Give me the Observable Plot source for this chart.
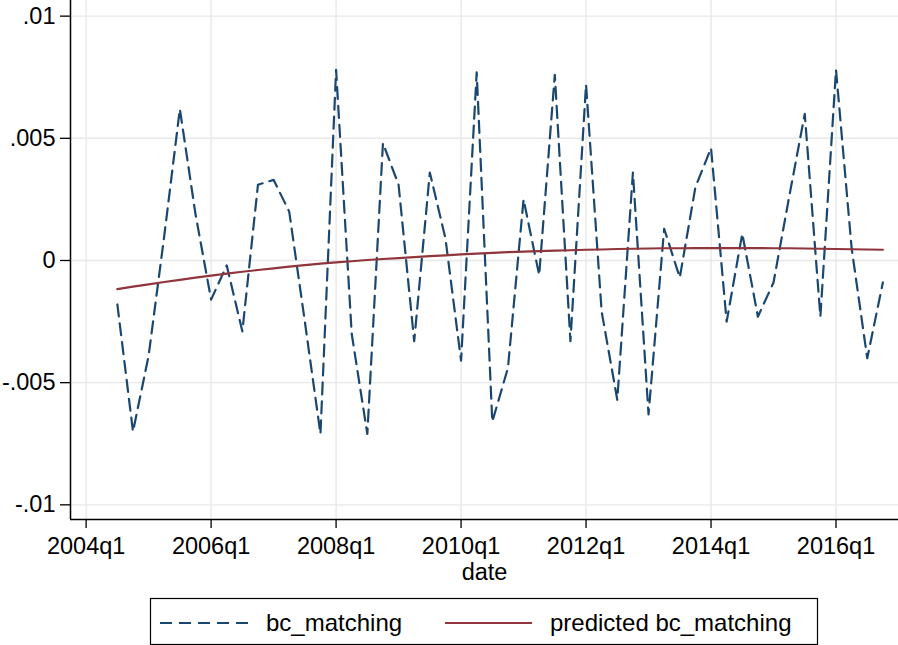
<!DOCTYPE html>
<html>
<head>
<meta charset="utf-8">
<script src="https://cdn.jsdelivr.net/npm/d3@7"></script>
<script src="https://cdn.jsdelivr.net/npm/@observablehq/plot@0.6"></script>
<style>
  html, body { margin: 0; padding: 0; background: #fff; }
  #wrap { position: relative; width: 898px; height: 645px; font-family: "Liberation Sans", Arial, Helvetica, sans-serif; }
  #legend { position: absolute; left: 0; top: 590px; }
</style>
</head>
<body>
<div id="wrap"><div id="chart"></div><div id="legend"></div></div>
<script>
// Quarters (index 0 = 2004q1)
const quarters = [
  "2004q3","2004q4","2005q1","2005q2","2005q3","2005q4","2006q1","2006q2","2006q3","2006q4",
  "2007q1","2007q2","2007q3","2007q4","2008q1","2008q2","2008q3","2008q4","2009q1","2009q2",
  "2009q3","2009q4","2010q1","2010q2","2010q3","2010q4","2011q1","2011q2","2011q3","2011q4",
  "2012q1","2012q2","2012q3","2012q4","2013q1","2013q2","2013q3","2013q4","2014q1","2014q2",
  "2014q3","2014q4","2015q1","2015q2","2015q3","2015q4","2016q1","2016q2","2016q3","2016q4"
];
const bcMatching = [
  -0.0018, -0.0070, -0.0039, 0.0010, 0.0062, 0.0019, -0.0016, -0.0002, -0.0029, 0.0031,
  0.0033, 0.0020, -0.0025, -0.0071, 0.0078, -0.0030, -0.0071, 0.0048, 0.0031, -0.0033,
  0.0036, 0.0009, -0.0041, 0.0077, -0.0066, -0.0044, 0.0025, -0.0006, 0.0076, -0.0033,
  0.0072, -0.0021, -0.0057, 0.0036, -0.0063, 0.0013, -0.0007, 0.0030, 0.0046, -0.0025,
  0.0011, -0.0023, -0.0009, 0.0026, 0.0060, -0.0023, 0.0078, 0.0005, -0.0040, -0.0009
];
const predicted = [
  -0.00117, -0.00107, -0.00098, -0.00088, -0.00079, -0.00070, -0.00062, -0.00054, -0.00046, -0.00039,
  -0.00032, -0.00025, -0.00019, -0.00013, -0.00008, -0.00003, 0.00002, 0.00006, 0.00010, 0.00014,
  0.00018, 0.00021, 0.00025, 0.00028, 0.00031, 0.00034, 0.00036, 0.00038, 0.00040, 0.00042,
  0.00044, 0.00045, 0.00047, 0.00048, 0.00049, 0.00050, 0.00050, 0.00051, 0.00051, 0.00051,
  0.00051, 0.00051, 0.00050, 0.00050, 0.00049, 0.00048, 0.00047, 0.00046, 0.00045, 0.00044
];
const xTickLabels = ["2004q1","2006q1","2008q1","2010q1","2012q1","2014q1","2016q1"];
const yTicks = [-0.01, -0.005, 0, 0.005, 0.01];
const yTickLabels = ["-.01", "-.005", "0", ".005", ".01"];
const seriesNames = ["bc_matching", "predicted bc_matching"];

const qIndex = s => (+s.slice(0, 4) - 2004) * 4 + (+s.slice(5) - 1);
const xTickVals = xTickLabels.map(qIndex);
const rows = quarters.map((d, i) => ({q: qIndex(d), bc: bcMatching[i], pred: predicted[i]}));

const blue = "#1a476f", red = "#90353b";
const FS = 23.5;
const LFS = 24;
const xDomain = [-1, 52];
const yDomain = [-0.0106, 0.01064];

const chart = Plot.plot({
  width: 898,
  height: 590,
  marginLeft: 70,
  marginRight: 0,
  marginTop: 0,
  marginBottom: 71,
  style: {fontFamily: '"Liberation Sans", Arial, Helvetica, sans-serif', fontSize: FS + "px", color: "#000", background: "#fff"},
  x: {domain: xDomain},
  y: {domain: yDomain},
  marks: [
    Plot.gridX(xTickVals, {stroke: "#e8e8e8", strokeOpacity: 1, strokeWidth: 1.4}),
    Plot.gridY(yTicks, {stroke: "#e8e8e8", strokeOpacity: 1, strokeWidth: 1.4}),
    Plot.axisY(yTicks, {tickSize: 10, tickPadding: 5, tickFormat: (d, i) => yTickLabels[i], fontSize: FS, label: null, strokeWidth: 1.3}),
    Plot.axisX(xTickVals, {tickSize: 9, tickPadding: 9, tickFormat: (d, i) => xTickLabels[i], fontSize: FS, label: null, strokeWidth: 1.3}),
    Plot.ruleX([xDomain[0]], {stroke: "#000", strokeWidth: 1.5}),
    Plot.ruleY([yDomain[0]], {stroke: "#000", strokeWidth: 1.5}),
    Plot.line(rows, {x: "q", y: "bc", stroke: blue, strokeWidth: 2.2, strokeDasharray: "12,7"}),
    Plot.line(rows, {x: "q", y: "pred", stroke: red, strokeWidth: 2.2}),
    Plot.text(["date"], {frameAnchor: "bottom", dy: 53, fontSize: FS, fill: "#000", textAnchor: "middle", lineAnchor: "middle"})
  ]
});
document.getElementById("chart").appendChild(chart);

// Legend below the plot
const lg = d3.select("#legend").append("svg").attr("width", 898).attr("height", 55)
  .style("font-family", '"Liberation Sans", Arial, Helvetica, sans-serif');
lg.append("rect").attr("x", 150.5).attr("y", 8.5).attr("width", 667).attr("height", 46)
  .attr("fill", "#fff").attr("stroke", "#000").attr("stroke-width", 1.2);
const items = [
  {name: seriesNames[0], color: blue, dash: "12,7", x1: 160, x2: 250, tx: 266},
  {name: seriesNames[1], color: red, dash: null, x1: 445, x2: 532, tx: 550}
];
items.forEach(it => {
  lg.append("line").attr("x1", it.x1).attr("x2", it.x2).attr("y1", 33).attr("y2", 33)
    .attr("stroke", it.color).attr("stroke-width", 2.2).attr("stroke-dasharray", it.dash);
  lg.append("text").attr("x", it.tx).attr("y", 33).attr("dy", "0.35em")
    .attr("font-size", LFS).attr("fill", "#000").text(it.name);
});
</script>
</body>
</html>
